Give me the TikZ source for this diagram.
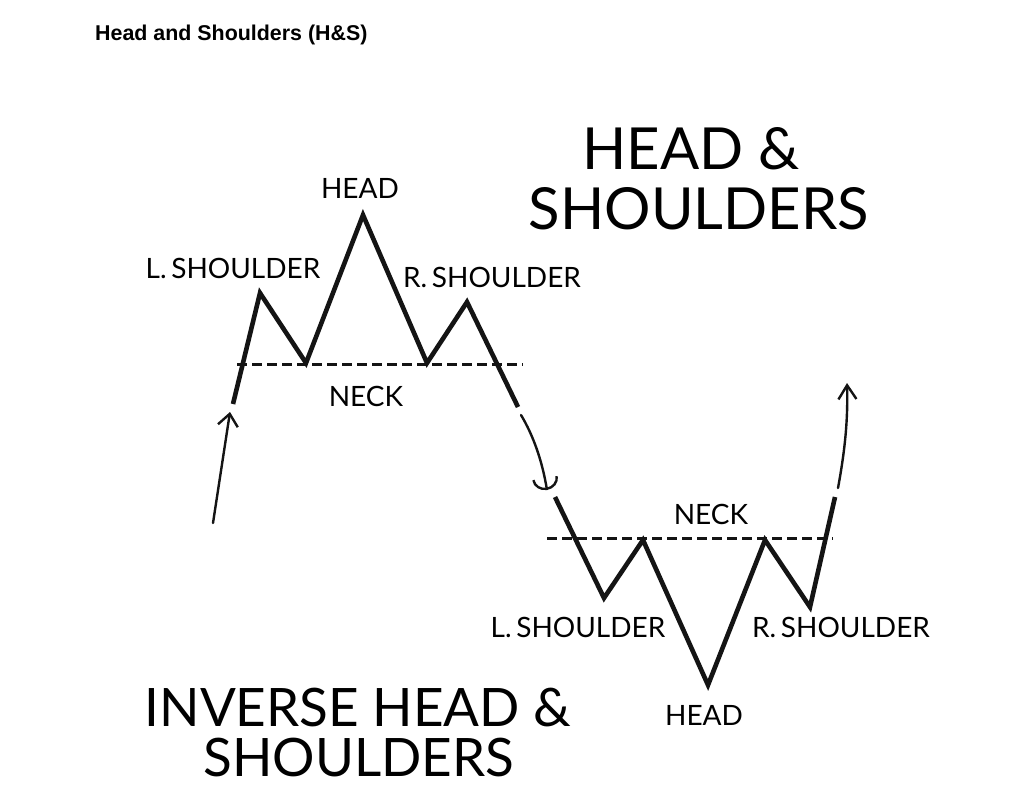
\documentclass[tikz,border=0pt]{standalone}
\usepackage{fontspec}
\setmainfont{Lato}
\newfontfamily\headfont{Liberation Sans}
\usetikzlibrary{arrows.meta,positioning}
\definecolor{ink}{HTML}{141414}

\begin{document}
\begin{tikzpicture}[x=1pt,y=-1pt,
  price/.style={ink,line width=4.6pt,line join=miter},
  neck/.style={ink,line width=3pt,dash pattern=on 10pt off 5pt},
  trend/.style={ink,line width=2.4pt,line cap=round},
  lbl/.style={inner sep=0pt,text height=20pt,text depth=0pt,font=\fontsize{28}{28}\selectfont},
  big/.style={inner sep=0pt,text height=42pt,text depth=0pt,font=\fontsize{58}{58}\selectfont},
  bigb/.style={inner sep=0pt,text height=38pt,text depth=0pt,font=\fontsize{53}{53}\selectfont}]
  \useasboundingbox[fill=white] (0,0) rectangle (1024,801);
  \node[anchor=west,inner sep=0pt,font=\headfont\bfseries\fontsize{21.4}{21.4}\selectfont] (title) at (95,35) {Head and Shoulders (H\&S)};

  % head and shoulders top
  \coordinate (tStart) at (233,404);
  \coordinate (tLS) at (260,293);
  \coordinate (tN1) at (306,363);
  \coordinate (tHead) at (363,215);
  \coordinate (tN2) at (427,363);
  \coordinate (tRS) at (467,302);
  \coordinate (tEnd) at (518,407);
  \coordinate (tNeckL) at (237,364);
  \coordinate (tNeckR) at (523,364);
  \draw[neck] (tNeckL) -- (tNeckR);
  \draw[price] (tStart) -- (tLS) -- (tN1) -- (tHead) -- (tN2) -- (tRS) -- (tEnd);

  % inverse one below
  \coordinate (bStart) at (555,497);
  \coordinate (bLS) at (604,598);
  \coordinate (bN1) at (643,540);
  \coordinate (bHead) at (708,685);
  \coordinate (bN2) at (765,540);
  \coordinate (bRS) at (810,607);
  \coordinate (bEnd) at (835,497);
  \coordinate (bNeckL) at (547,538);
  \coordinate (bNeckR) at (833,538);
  \draw[neck] (bNeckL) -- (bNeckR);
  \draw[price] (bStart) -- (bLS) -- (bN1) -- (bHead) -- (bN2) -- (bRS) -- (bEnd);

  % trend arrows
  \coordinate (inA) at (213,523);
  \coordinate (inB) at (230,412);
  \coordinate (dnA) at (521,415);
  \coordinate (dnB) at (547,490);
  \coordinate (upA) at (838,488);
  \coordinate (upB) at (847,383);
  \draw[trend,-{Straight Barb[length=12pt,width=20pt]}] (inA) -- (inB);
  \draw[trend,-{Arc Barb[length=12pt,width=26pt]}] (dnA) .. controls (533,435) and (542,460) .. (dnB);
  \draw[trend,-{Straight Barb[length=14pt,width=18pt]}] (upA) .. controls (845,450) and (848,420) .. (upB);

  % labels
  \node[lbl] (headT) at (360,188) {HEAD};
  \node[lbl] (lsT) at (233,268) {L.\,SHOULDER};
  \node[lbl] (rsT) at (492,277) {R.\,SHOULDER};
  \node[lbl] (neckT) at (366,396) {NECK};
  \node[lbl] (neckB) at (711,514) {NECK};
  \node[lbl] (lsB) at (578,627) {L.\,SHOULDER};
  \node[lbl] (rsB) at (841,627) {R.\,SHOULDER};
  \node[lbl] (headB) at (704,715) {HEAD};

  \node[big] (hsA) at (691,148) {HEAD \&};
  \node[big] (hsB) at (699,208) {SHOULDERS};
  \node[bigb] (ihsA) at (358,707) {INVERSE HEAD \&};
  \node[bigb] (ihsB) at (359,757) {SHOULDERS};
\end{tikzpicture}
\end{document}
